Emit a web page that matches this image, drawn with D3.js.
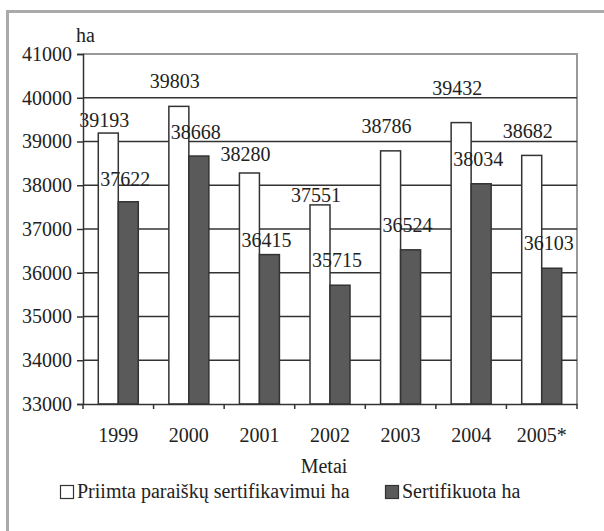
<!DOCTYPE html>
<html>
<head>
<meta charset="utf-8">
<script src="https://cdn.jsdelivr.net/npm/d3@7"></script>
</head>
<body style="margin:0">
<script>
// data
const years = ["1999", "2000", "2001", "2002", "2003", "2004", "2005*"];
const priimta = [39193, 39803, 38280, 37551, 38786, 39432, 38682];
const sertifikuota = [37622, 38668, 36415, 35715, 36524, 38034, 36103];
const yTicks = [33000, 34000, 35000, 36000, 37000, 38000, 39000, 40000, 41000];
const seriesNames = ["Priimta paraiškų sertifikavimui ha", "Sertifikuota ha"];

// label nudges (px above bar top), as placed in the original
const liftWhite = [6, 18, 12, 3, 18, 28, 17];
const liftDark = [16, 17, 8, 18, 18, 18, 18];

const width = 604, height = 531;
const margin = {left: 83, right: 27, top: 54, bottom: 127};
const plotW = width - margin.left - margin.right;
const plotH = height - margin.top - margin.bottom;

let svg = d3.select("body")
    .append("svg")
    .attr("width", width)
    .attr("height", height);

// helper so every text gets the same serif face
function serif(sel) {
    return sel.attr("font-family", "Liberation Serif")
        .style("font-family", '"Liberation Serif"')
        .style("font-size", "20px")
        .attr("fill", "#222");
}

// outer frame (top + left only visible)
svg.append("path")
    .attr("d", "M7.5,531 V11.5 H604")
    .attr("fill", "none")
    .attr("stroke", "#aaa")
    .attr("stroke-width", 3);

let g = svg.append("g")
    .attr("transform", `translate(${margin.left}, ${margin.top})`);

let x = d3.scaleBand()
    .domain(years)
    .range([0, plotW]);

let y = d3.scaleLinear()
    .domain([33000, 41000])
    .range([plotH, 0]);

const barW = 20;

// plot border right + top
g.append("path")
    .attr("d", `M0,0 H${plotW} V${plotH}`)
    .attr("fill", "none")
    .attr("stroke", "#999")
    .attr("stroke-width", 2);

// gridlines
g.append("g")
    .selectAll("line")
    .data(yTicks.filter(d => d > 33000 && d < 41000))
    .enter()
    .append("line")
    .attr("x1", 0)
    .attr("x2", plotW)
    .attr("y1", d => y(d))
    .attr("y2", d => y(d))
    .attr("stroke", "#333")
    .attr("stroke-width", 1.5);

// bars
let groups = g.append("g")
    .selectAll("g")
    .data(years)
    .enter()
    .append("g");

groups.append("rect")
    .attr("x", d => x(d) + x.bandwidth() / 2 - barW)
    .attr("y", (d, i) => y(priimta[i]))
    .attr("width", barW)
    .attr("height", (d, i) => plotH - y(priimta[i]))
    .attr("fill", "#fff")
    .attr("stroke", "#333")
    .attr("stroke-width", 1.5);

groups.append("rect")
    .attr("x", d => x(d) + x.bandwidth() / 2)
    .attr("y", (d, i) => y(sertifikuota[i]))
    .attr("width", barW)
    .attr("height", (d, i) => plotH - y(sertifikuota[i]))
    .attr("fill", "#5a5a5a")
    .attr("stroke", "#333")
    .attr("stroke-width", 1.5);

// value labels
serif(groups.append("text"))
    .attr("x", d => x(d) + x.bandwidth() / 2 - barW / 2 - 4)
    .attr("y", (d, i) => y(priimta[i]) - liftWhite[i])
    .attr("text-anchor", "middle")
    .text((d, i) => priimta[i]);

serif(groups.append("text"))
    .attr("x", d => x(d) + x.bandwidth() / 2 + barW / 2 - 3)
    .attr("y", (d, i) => y(sertifikuota[i]) - liftDark[i])
    .attr("text-anchor", "middle")
    .text((d, i) => sertifikuota[i]);

// y axis
let yAxis = g.append("g")
    .call(d3.axisLeft(y).tickValues(yTicks).tickSize(6).tickPadding(5).tickFormat(d3.format("d")));
yAxis.attr("font-family", "Liberation Serif").attr("font-size", 20);
yAxis.select(".domain").attr("stroke", "#333").attr("stroke-width", 1.5);
yAxis.selectAll(".tick line").attr("stroke", "#333").attr("stroke-width", 1.5);
serif(yAxis.selectAll("text"));

// x axis
let xAxis = g.append("g")
    .attr("transform", `translate(0, ${plotH})`)
    .call(d3.axisBottom(x).tickSize(0).tickPadding(24));
xAxis.attr("font-family", "Liberation Serif").attr("font-size", 20);
xAxis.select(".domain").attr("stroke", "#333").attr("stroke-width", 1.5);
serif(xAxis.selectAll("text"));

// x category boundary ticks
g.append("g")
    .selectAll("line")
    .data(d3.range(years.length + 1))
    .enter()
    .append("line")
    .attr("x1", i => i * x.step())
    .attr("x2", i => i * x.step())
    .attr("y1", plotH)
    .attr("y2", plotH + 5)
    .attr("stroke", "#333")
    .attr("stroke-width", 1.5);

// axis titles
serif(svg.append("text"))
    .attr("x", 76)
    .attr("y", 42)
    .text("ha");

serif(svg.append("text"))
    .attr("x", 324)
    .attr("y", 473)
    .attr("text-anchor", "middle")
    .text("Metai");

// legend
let legend = svg.append("g");
const legendX = [60, 385];
const legendFill = ["#fff", "#5a5a5a"];
seriesNames.forEach(function(name, i) {
    legend.append("rect")
        .attr("x", legendX[i] + 0.5)
        .attr("y", 485.5)
        .attr("width", 13)
        .attr("height", 13)
        .attr("fill", legendFill[i])
        .attr("stroke", "#333")
        .attr("stroke-width", 1.2);
    serif(legend.append("text"))
        .attr("x", legendX[i] + 17)
        .attr("y", 498)
        .text(name);
});
</script>
</body>
</html>
